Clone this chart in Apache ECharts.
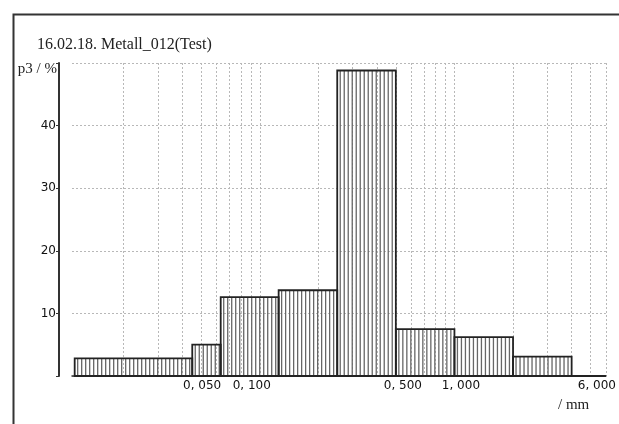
<!DOCTYPE html>
<html>
<head>
<meta charset="UTF-8">
<script src="https://cdn.jsdelivr.net/npm/echarts@6/dist/echarts.min.js"></script>
</head>
<body style="margin:0;background:#fff;">
<div id="main" style="width:619px;height:424px;"></div>
<script type="text/javascript">

// sieve class edges (mm) and p3 share per class (%)
var binEdges = [0.0112, 0.045, 0.063, 0.125, 0.25, 0.5, 1, 2, 4, 6];
var binValues = [2.8, 5.0, 12.6, 13.7, 48.8, 7.5, 6.2, 3.1, 0];

// log grid lines and labelled sizes on the x axis
var gridValues = [0.02, 0.03, 0.04, 0.05, 0.06, 0.07, 0.08, 0.09,
                  0.1, 0.2, 0.3, 0.4, 0.5, 0.6, 0.7, 0.8, 0.9,
                  1, 2, 3, 4, 5, 6];
var labelValues = [0.05, 0.1, 0.5, 1, 6];
var xMin = 0.01085, xMax = 6;

var chart = echarts.init(document.getElementById('main'));

var barData = [];
for (var i = 0; i < binValues.length; i++) {
    barData.push([Math.log10(binEdges[i]), Math.log10(binEdges[i + 1]), binValues[i]]);
}

// small shifts of the x labels, like in the original print
var labelKeys = {'0.050': 'a', '0.100': 'b', '0.500': 'c', '1.000': 'd', '6.000': 'e'};

function renderBin(params, api) {
    var p0 = api.coord([api.value(0), 0]);
    var p1 = api.coord([api.value(1), api.value(2)]);
    var left = p0[0], right = p1[0], bottom = p0[1], top = p1[1];
    var children = [];
    for (var x = left + 3; x < right - 1; x += 4) {
        children.push({
            type: 'line',
            shape: {x1: x, y1: top, x2: x, y2: bottom},
            style: {stroke: '#666', lineWidth: 1.3}
        });
    }
    children.push({
        type: 'rect',
        shape: {x: left, y: top, width: right - left, height: bottom - top},
        style: {fill: 'none', stroke: '#222', lineWidth: 1.8}
    });
    return {type: 'group', children: children};
}

var option = {
    animation: false,
    title: {
        text: '16.02.18. Metall_012(Test)',
        left: 37,
        top: 37,
        padding: 0,
        textStyle: {fontFamily: 'Liberation Serif', fontSize: 16, fontWeight: 'normal', color: '#222'}
    },
    grid: {left: 72, right: 13, top: 63, bottom: 48},
    xAxis: {
        type: 'value',
        min: Math.log10(xMin),
        max: Math.log10(xMax),
        axisLine: {show: true, onZero: false, lineStyle: {color: '#333', width: 1.5}},
        axisTick: {show: false, customValues: gridValues.map(Math.log10)},
        splitLine: {show: true, lineStyle: {color: '#b8b8b8', type: [2, 2], width: 1}},
        axisLabel: {
            customValues: labelValues.map(Math.log10),
            margin: 4,
            fontFamily: 'DejaVu Sans',
            fontSize: 12,
            color: '#111',
            formatter: function (v) {
                var s = Math.pow(10, v).toFixed(3);
                var k = labelKeys[s] || 'a';
                return '{' + k + '|' + s.replace('.', ', ') + '}';
            },
            rich: {
                a: {padding: [0, 0, 0, 2]},
                b: {padding: [0, 16, 0, 0]},
                c: {padding: [0, 0, 0, 14]},
                d: {padding: [0, 0, 0, 13]},
                e: {padding: [0, 18, 0, 0]}
            }
        }
    },
    yAxis: {
        type: 'value',
        min: 0,
        max: 50,
        interval: 10,
        offset: 13,
        axisLine: {show: true, onZero: false, lineStyle: {color: '#333', width: 2}},
        axisTick: {show: true, length: 3, lineStyle: {color: '#333'}},
        axisLabel: {
            margin: 3,
            fontFamily: 'DejaVu Sans',
            fontSize: 12,
            color: '#111',
            formatter: function (v) { return (v === 0 || v === 50) ? '' : String(v); }
        },
        splitLine: {show: true, lineStyle: {color: '#b8b8b8', type: [2, 2], width: 1}}
    },
    graphic: [
        {type: 'rect', left: 11, top: 12, shape: {width: 640, height: 440},
         style: {fill: 'none', stroke: '#333', lineWidth: 2}, silent: true},
        {type: 'text', x: 57, y: 69,
         style: {text: 'p3 / %', fontFamily: 'Liberation Serif', fontSize: 15, fill: '#222',
                 align: 'right', verticalAlign: 'middle'}},
        {type: 'text', x: 558, y: 405,
         style: {text: '/ mm', fontFamily: 'Liberation Serif', fontSize: 15, fill: '#222',
                 align: 'left', verticalAlign: 'middle'}}
    ],
    series: [{
        type: 'custom',
        renderItem: renderBin,
        encode: {x: [0, 1], y: 2},
        data: barData
    }]
};

chart.setOption(option);
</script>
</body>
</html>
